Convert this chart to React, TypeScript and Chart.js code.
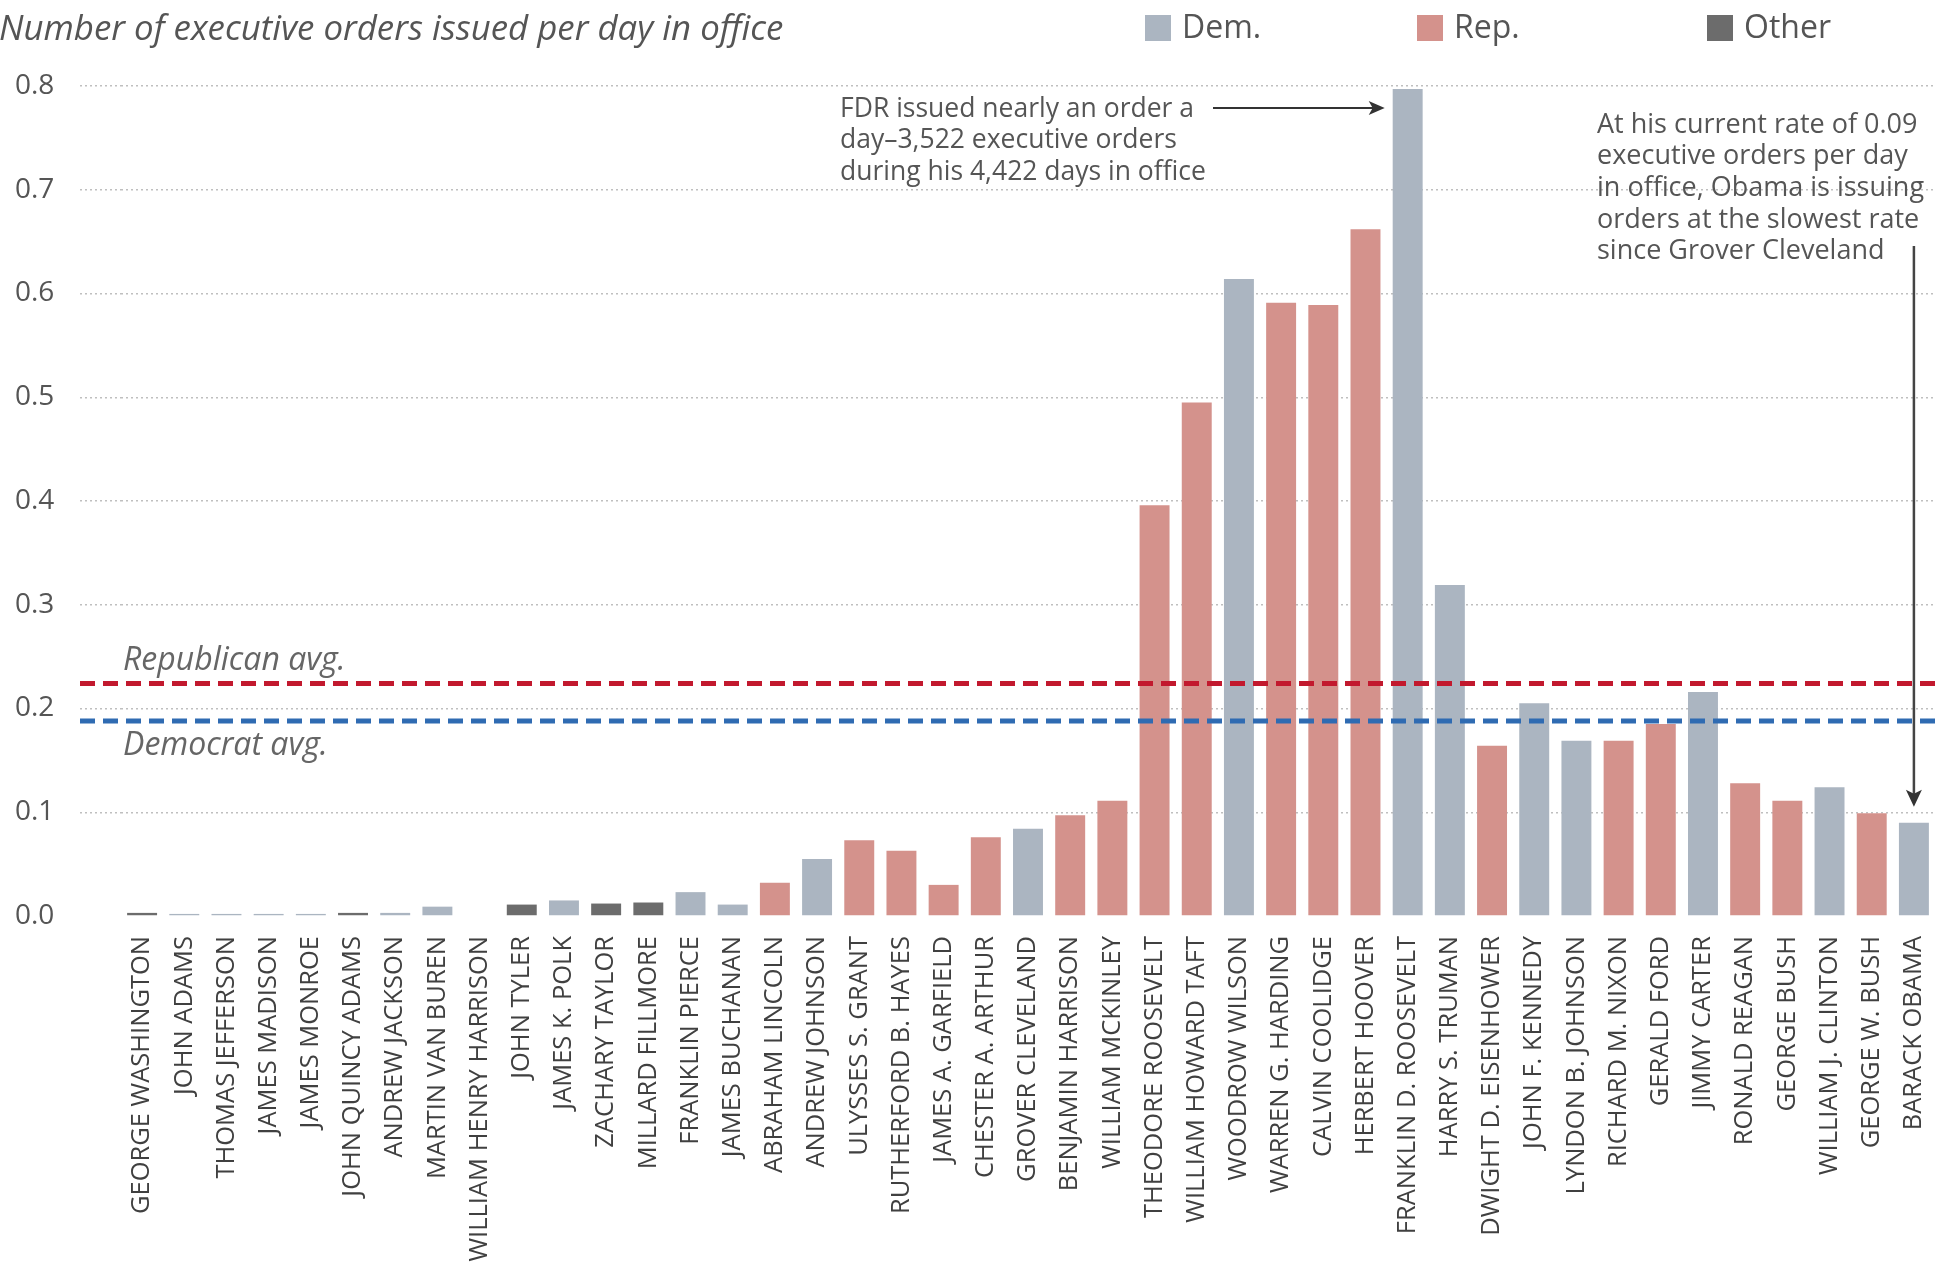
import React, { useEffect, useRef } from "react";
import { Chart, registerables } from "chart.js";

Chart.register(...registerables);

// ---------- data ----------
const presidents = [
  "GEORGE WASHINGTON", "JOHN ADAMS", "THOMAS JEFFERSON", "JAMES MADISON", "JAMES MONROE",
  "JOHN QUINCY ADAMS", "ANDREW JACKSON", "MARTIN VAN BUREN", "WILLIAM HENRY HARRISON", "JOHN TYLER",
  "JAMES K. POLK", "ZACHARY TAYLOR", "MILLARD FILLMORE", "FRANKLIN PIERCE", "JAMES BUCHANAN",
  "ABRAHAM LINCOLN", "ANDREW JOHNSON", "ULYSSES S. GRANT", "RUTHERFORD B. HAYES", "JAMES A. GARFIELD",
  "CHESTER A. ARTHUR", "GROVER CLEVELAND", "BENJAMIN HARRISON", "WILLIAM MCKINLEY", "THEODORE ROOSEVELT",
  "WILLIAM HOWARD TAFT", "WOODROW WILSON", "WARREN G. HARDING", "CALVIN COOLIDGE", "HERBERT HOOVER",
  "FRANKLIN D. ROOSEVELT", "HARRY S. TRUMAN", "DWIGHT D. EISENHOWER", "JOHN F. KENNEDY", "LYNDON B. JOHNSON",
  "RICHARD M. NIXON", "GERALD FORD", "JIMMY CARTER", "RONALD REAGAN", "GEORGE BUSH",
  "WILLIAM J. CLINTON", "GEORGE W. BUSH", "BARACK OBAMA",
];

const presidentParty = [
  "O", "D", "D", "D", "D",
  "O", "D", "D", "O", "O",
  "D", "O", "O", "D", "D",
  "R", "D", "R", "R", "R",
  "R", "D", "R", "R", "R",
  "R", "D", "R", "R", "R",
  "D", "D", "R", "D", "D",
  "R", "R", "D", "R", "R",
  "D", "R", "D",
];

const ordersPerDay = [
  0.003, 0.002, 0.002, 0.002, 0.002,
  0.003, 0.003, 0.009, 0, 0.011,
  0.015, 0.012, 0.013, 0.023, 0.011,
  0.032, 0.055, 0.073, 0.063, 0.03,
  0.076, 0.084, 0.097, 0.111, 0.396,
  0.495, 0.614, 0.591, 0.589, 0.662,
  0.797, 0.319, 0.164, 0.205, 0.169,
  0.169, 0.185, 0.216, 0.128, 0.111,
  0.124, 0.099, 0.09,
];

const partyCodes = ["D", "R", "O"];
const partyNames = ["Dem.", "Rep.", "Other"];
const partyColors = ["#abb5c1", "#d4928c", "#6c6c6c"];

const avgLabels = ["Republican avg.", "Democrat avg."];
const avgValues = [0.224, 0.188];
const avgColors = ["#c2192e", "#2f6bb2"];

const yTickValues = [0, 0.1, 0.2, 0.3, 0.4, 0.5, 0.6, 0.7, 0.8];

const subtitleText = "Number of executive orders issued per day in office";
const fdrNote = [
  "FDR issued nearly an order a",
  "day\u20133,522 executive orders",
  "during his 4,422 days in office",
];
const obamaNote = [
  "At his current rate of 0.09",
  "executive orders per day",
  "in office, Obama is issuing",
  "orders at the slowest rate",
  "since Grover Cleveland",
];
const fdrIndex = presidents.indexOf("FRANKLIN D. ROOSEVELT");
const obamaIndex = presidents.indexOf("BARACK OBAMA");

// ---------- styling ----------
const FONT = "'Open Sans', 'DejaVu Sans', sans-serif";
const TEXT = "#555555";
const GRID = "#bfbfbf";
const Y_TICK_LEN = 41;

function drawArrowHead(ctx: CanvasRenderingContext2D, x: number, y: number, dir: "right" | "down") {
  ctx.beginPath();
  if (dir === "right") {
    ctx.moveTo(x, y);
    ctx.lineTo(x - 16, y - 7);
    ctx.lineTo(x - 12, y);
    ctx.lineTo(x - 16, y + 7);
  } else {
    ctx.moveTo(x, y);
    ctx.lineTo(x - 8, y - 17);
    ctx.lineTo(x, y - 13);
    ctx.lineTo(x + 8, y - 17);
  }
  ctx.closePath();
  ctx.fill();
}

const overlayPlugin = {
  id: "overlay",
  afterDatasetsDraw(chart: any) {
    const { ctx, chartArea, scales } = chart;
    const y = scales.y;
    const lineStart = chartArea.left - Y_TICK_LEN;
    ctx.save();
    // average lines
    avgValues.forEach((v, i) => {
      const py = y.getPixelForValue(v);
      ctx.strokeStyle = avgColors[i];
      ctx.lineWidth = 5;
      ctx.setLineDash([15, 8]);
      ctx.beginPath();
      ctx.moveTo(lineStart, py);
      ctx.lineTo(chartArea.right, py);
      ctx.stroke();
      ctx.setLineDash([]);
      ctx.fillStyle = "#666666";
      ctx.font = `italic 32px ${FONT}`;
      ctx.textAlign = "left";
      ctx.textBaseline = "middle";
      ctx.fillText(avgLabels[i], chartArea.left + 2, i === 0 ? py - 23 : py + 25);
    });

    // annotations
    ctx.fillStyle = TEXT;
    ctx.textAlign = "left";
    ctx.textBaseline = "middle";
    ctx.font = `26.5px ${FONT}`;
    fdrNote.forEach((t, i) => ctx.fillText(t, 840, 109 + i * 31.5));
    ctx.font = `27px ${FONT}`;
    obamaNote.forEach((t, i) => ctx.fillText(t, 1597, 125 + i * 31.7));

    const dIdx = partyCodes.indexOf("D");
    const meta = chart.getDatasetMeta(dIdx);
    const fdrBar = meta.data[fdrIndex];
    const obamaBar = meta.data[obamaIndex];
    ctx.strokeStyle = "#333333";
    ctx.fillStyle = "#333333";
    ctx.lineWidth = 2;
    if (fdrBar) {
      const tipX = fdrBar.x - fdrBar.width / 2 - 8;
      const ay = 108;
      ctx.beginPath();
      ctx.moveTo(1213, ay);
      ctx.lineTo(tipX - 10, ay);
      ctx.stroke();
      drawArrowHead(ctx, tipX, ay, "right");
    }
    if (obamaBar) {
      const tipY = obamaBar.y - 16;
      ctx.lineWidth = 2.5;
      ctx.strokeStyle = "#444444";
      ctx.fillStyle = "#333333";
      ctx.beginPath();
      ctx.moveTo(obamaBar.x, 246);
      ctx.lineTo(obamaBar.x, tipY - 10);
      ctx.stroke();
      drawArrowHead(ctx, obamaBar.x, tipY, "down");
    }
    ctx.restore();
  },
  afterDraw(chart: any) {
    const { ctx } = chart;
    ctx.save();
    // subtitle
    ctx.fillStyle = TEXT;
    ctx.font = `italic 34.8px ${FONT}`;
    ctx.textAlign = "left";
    ctx.textBaseline = "middle";
    ctx.fillText(subtitleText, -1, 30);
    // legend
    const legendX = [1145, 1417, 1707];
    chart.data.datasets.forEach((ds: any, i: number) => {
      const bx = legendX[i];
      ctx.fillStyle = ds.backgroundColor;
      ctx.fillRect(bx, 15, 26, 26);
      ctx.fillStyle = TEXT;
      ctx.font = `32px ${FONT}`;
      ctx.fillText(ds.label, bx + 37, 29);
    });
    ctx.restore();
  },
};

export default function App() {
  const canvasRef = useRef<HTMLCanvasElement>(null);

  useEffect(() => {
    document.body.style.margin = "0";
    const canvas = canvasRef.current;
    if (!canvas) return;

    const datasets = partyCodes.map((code, pi) => ({
      type: "bar" as const,
      label: partyNames[pi],
      data: ordersPerDay.map((v, i) => (presidentParty[i] === code ? v : null)),
      backgroundColor: partyColors[pi],
      borderWidth: 0,
      grouped: false,
      barPercentage: 0.71,
      categoryPercentage: 1,
    }));

    const chart = new Chart(canvas, {
      type: "bar",
      data: { labels: presidents, datasets },
      plugins: [overlayPlugin],
      options: {
        animation: false,
        responsive: true,
        maintainAspectRatio: false,
        devicePixelRatio: 1,
        layout: { padding: { top: 86, left: 15, right: 0, bottom: 0 } },
        plugins: {
          legend: { display: false },
          title: { display: false },
          tooltip: { enabled: false },
        },
        scales: {
          x: {
            grid: { display: false, drawTicks: false },
            border: { display: false },
            ticks: {
              autoSkip: false,
              maxRotation: 90,
              minRotation: 90,
              padding: 20,
              color: "#404040",
              font: { family: FONT, size: 25.5 },
            },
            afterFit: (scale: any) => {
              scale.height = 367;
              scale.paddingLeft = 0;
              scale.paddingRight = 0;
            },
          },
          y: {
            min: 0,
            max: 0.8,
            afterBuildTicks: (scale: any) => {
              scale.ticks = yTickValues.map((v) => ({ value: v }));
            },
            afterFit: (scale: any) => {
              scale.width = 106;
            },
            grid: {
              color: (c: any) => (c.tick && c.tick.value === 0 ? "rgba(0,0,0,0)" : GRID),
              tickColor: (c: any) => (c.tick && c.tick.value === 0 ? "rgba(0,0,0,0)" : GRID),
              lineWidth: 1.5,
              drawTicks: true,
              tickLength: Y_TICK_LEN,
              tickWidth: 1.5,
              tickBorderDash: [2, 3],
            },
            border: { display: false, dash: [2, 3] },
            ticks: {
              crossAlign: "far",
              padding: 0,
              color: TEXT,
              font: { family: FONT, size: 28 },
              callback: (v: any) => Number(v).toFixed(1),
            },
          },
        },
      },
    });

    return () => chart.destroy();
  }, []);

  return (
    <div style={{ position: "relative", width: 1935, height: 1283 }}>
      <canvas ref={canvasRef} />
    </div>
  );
}
